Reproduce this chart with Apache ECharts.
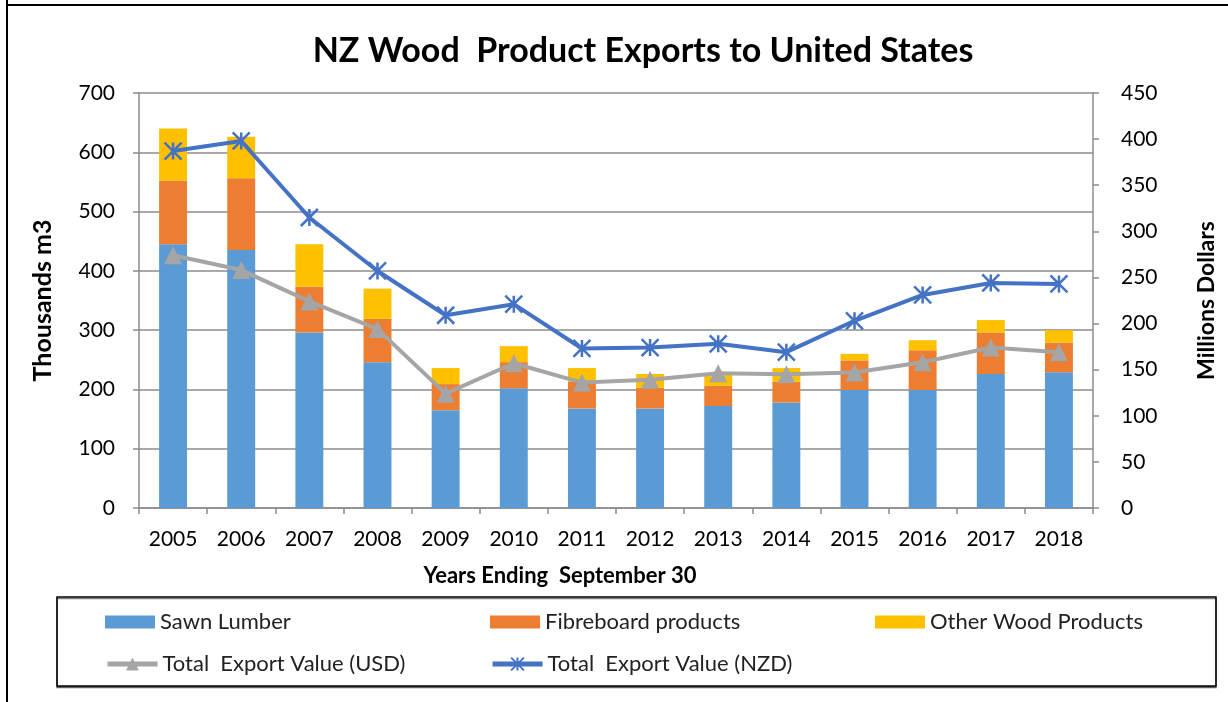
<!DOCTYPE html>
<html>
<head>
<meta charset="utf-8">
<script src="https://cdn.jsdelivr.net/npm/echarts@6/dist/echarts.min.js"></script>
<style>
  html, body { margin: 0; padding: 0; background: #fff; }
  #chart { width: 1228px; height: 702px; }
</style>
</head>
<body>
<div id="chart"></div>
<script>
// data
var years = ["2005", "2006", "2007", "2008", "2009", "2010", "2011", "2012", "2013", "2014", "2015", "2016", "2017", "2018"];
var sawnLumber = [445, 435, 296, 246, 165, 202, 168, 168, 172, 178, 199, 199, 226, 229];
var fibreboard = [107, 121, 77, 73, 44, 44, 45, 35, 34, 35, 50, 67, 70, 50];
var otherWood = [88, 70, 72, 51, 27, 27, 23, 23, 20, 23, 11, 17, 21, 21];
var totalUSD = [274, 258, 224, 194, 124, 157, 136, 139, 146, 145, 147, 158, 174, 169];
var totalNZD = [387, 398, 315, 257, 209, 221, 173, 174, 178, 169, 203, 231, 244, 243];

var FONT = "Lato";
var asterisk = "path://M0,0 L10,10 M10,0 L0,10 M5,0 L5,10";

function legendItem(name, left, top, icon) {
  var item = { name: name };
  if (icon) item.icon = icon;
  var lg = {
    left: left,
    top: top,
    itemWidth: 50,
    itemHeight: icon ? 13 : 16,
    textStyle: { fontFamily: FONT, fontSize: 22, color: "#222" },
    data: [item]
  };
  if (!icon) lg.lineStyle = { width: 5 };
  return lg;
}

var chart = echarts.init(document.getElementById("chart"));
chart.setOption({
  animation: false,
  textStyle: { fontFamily: FONT },
  title: {
    text: "NZ Wood  Product Exports to United States",
    left: 638,
    textAlign: "center",
    top: 29,
    textStyle: { fontFamily: FONT, fontSize: 34, fontWeight: "bold", color: "#000" }
  },
  grid: { left: 139, right: 135, top: 93, height: 415 },
  legend: [
    legendItem("Sawn Lumber", 100, 606, "rect"),
    legendItem("Fibreboard products", 485, 606, "rect"),
    legendItem("Other Wood Products", 870, 606, "rect"),
    legendItem("Total  Export Value (USD)", 100, 648),
    legendItem("Total  Export Value (NZD)", 485, 648)
  ],
  xAxis: {
    type: "category",
    data: years,
    name: "Years Ending  September 30",
    nameLocation: "middle",
    nameGap: 57,
    nameTextStyle: { fontFamily: FONT, fontSize: 22, fontWeight: "bold", color: "#000", padding: [0, 112, 0, 0] },
    axisLine: { lineStyle: { color: "#8c8c8c", width: 1.5 } },
    axisTick: { show: true, length: 6, lineStyle: { color: "#8c8c8c", width: 1.5 } },
    axisLabel: { fontFamily: FONT, fontSize: 21, color: "#000", margin: 21 }
  },
  yAxis: [
    {
      type: "value",
      min: 0,
      max: 700,
      interval: 100,
      name: "Thousands m3",
      nameLocation: "middle",
      nameGap: 84,
      nameRotate: 90,
      nameTextStyle: { fontFamily: FONT, fontSize: 25, fontWeight: "bold", color: "#000" },
      axisLine: { show: true, lineStyle: { color: "#8c8c8c", width: 1.5 } },
      axisTick: { show: true, length: 6, lineStyle: { color: "#8c8c8c", width: 1.5 } },
      axisLabel: { fontFamily: FONT, fontSize: 21, color: "#000", margin: 24 },
      splitLine: { lineStyle: { color: "#8c8c8c", width: 1.5 } }
    },
    {
      type: "value",
      min: 0,
      max: 450,
      interval: 50,
      name: "Millions Dollars",
      nameLocation: "middle",
      nameGap: 102,
      nameRotate: 90,
      nameTextStyle: { fontFamily: FONT, fontSize: 23, fontWeight: "bold", color: "#000" },
      axisLine: { show: true, lineStyle: { color: "#8c8c8c", width: 1.5 } },
      axisTick: { show: true, length: 6, lineStyle: { color: "#8c8c8c", width: 1.5 } },
      axisLabel: { fontFamily: FONT, fontSize: 21, color: "#000", margin: 28 },
      splitLine: { show: false }
    }
  ],
  series: [
    {
      name: "Sawn Lumber",
      type: "bar",
      stack: "wood",
      barWidth: "41%",
      itemStyle: { color: "#5B9BD5" },
      data: sawnLumber
    },
    {
      name: "Fibreboard products",
      type: "bar",
      stack: "wood",
      itemStyle: { color: "#ED7D31" },
      data: fibreboard
    },
    {
      name: "Other Wood Products",
      type: "bar",
      stack: "wood",
      itemStyle: { color: "#FFC000" },
      data: otherWood
    },
    {
      name: "Total  Export Value (USD)",
      type: "line",
      yAxisIndex: 1,
      symbol: "triangle",
      symbolSize: 18,
      lineStyle: { color: "#A5A5A5", width: 4 },
      itemStyle: { color: "#A5A5A5" },
      data: totalUSD
    },
    {
      name: "Total  Export Value (NZD)",
      type: "line",
      yAxisIndex: 1,
      symbol: asterisk,
      symbolSize: 17,
      lineStyle: { color: "#4472C4", width: 4 },
      itemStyle: { color: "#4472C4", borderColor: "#4472C4", borderWidth: 2.5 },
      data: totalNZD
    }
  ],
  graphic: [
    { type: "line", shape: { x1: 7, y1: 0, x2: 7, y2: 702 }, style: { stroke: "#000", lineWidth: 2 } },
    { type: "line", shape: { x1: 6, y1: 5, x2: 1228, y2: 5 }, style: { stroke: "#000", lineWidth: 2 } },
    {
      type: "rect",
      z: -1,
      shape: { x: 57, y: 597, width: 1159, height: 89 },
      style: { fill: "#fff", stroke: "#000", lineWidth: 1.5, shadowColor: "rgba(0,0,0,0.5)", shadowOffsetY: 1.5 }
    }
  ]
});
</script>
</body>
</html>
